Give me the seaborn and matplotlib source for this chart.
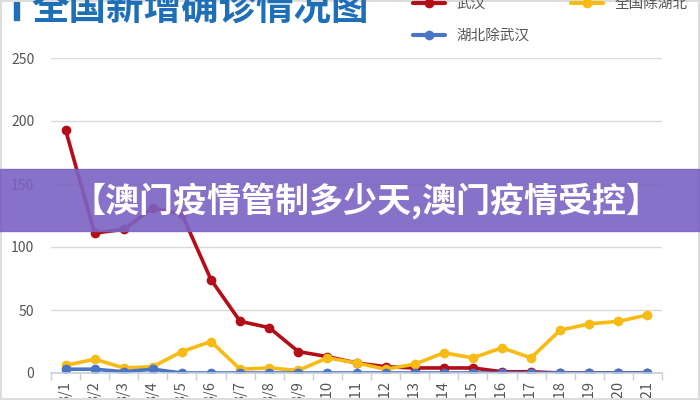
import matplotlib
matplotlib.use("Agg")
import matplotlib.pyplot as plt
import seaborn as sns
import pandas as pd
from matplotlib.lines import Line2D
from matplotlib.patches import Rectangle

DATES = [f"3/{d}" for d in range(1, 22)]
WUHAN = [193, 111, 114, 131, 126, 74, 41, 36, 17, 13, 8, 5, 4, 4, 4, 1, 1, 0, 0, 0, 0]
NATION_EX_HUBEI = [6, 11, 4, 5, 17, 25, 3, 4, 2, 12, 8, 3, 7, 16, 12, 20, 12, 34, 39, 41, 46]
HUBEI_EX_WUHAN = [3, 3, 1, 3, 0, 0, 0, 0, 0, 0, 0, 0, 0, 0, 0, 0, 0, 0, 0, 0, 0]

SERIES = {"武汉": WUHAN, "全国除湖北": NATION_EX_HUBEI, "湖北除武汉": HUBEI_EX_WUHAN}
COLORS = {"武汉": "#b50d17", "全国除湖北": "#f8bb14", "湖北除武汉": "#4a74c6"}

TITLE = "全国新增确诊情况图"
BANNER = "【澳门疫情管制多少天,澳门疫情受控】"

df = pd.concat(
    [pd.DataFrame({"date": DATES, "value": v, "series": k}) for k, v in SERIES.items()],
    ignore_index=True,
)

sns.set_theme(style="white")
plt.rcParams["font.family"] = ["Noto Sans CJK SC", "DejaVu Sans"]

fig = plt.figure(figsize=(7, 4), dpi=100)
ax = fig.add_axes([51 / 700, 27 / 400, 611 / 700, 315 / 400])

for name in ["武汉", "全国除湖北", "湖北除武汉"]:
    sub = df[df["series"] == name]
    sns.lineplot(
        data=sub, x="date", y="value", ax=ax, color=COLORS[name],
        linewidth=2.6, marker="o", markersize=7, markeredgewidth=0, sort=False,
    )

ax.set_xlim(-0.5, len(DATES) - 0.5)
ax.set_ylim(0, 250)
ax.set_yticks([0, 50, 100, 150, 200, 250])
ax.set_xticks(range(len(DATES)))
ax.set_xticklabels(DATES, rotation=90, color="#555555", fontsize=10.5)
ax.set_xticks([i + 0.5 for i in range(-1, len(DATES))], minor=True)
ax.tick_params(axis="x", which="major", length=0, pad=6)
ax.tick_params(axis="x", which="minor", length=5, color="#c8cfdc", width=1, bottom=True)
ax.tick_params(axis="y", labelsize=10, labelcolor="#555555", length=0, pad=12)
ax.grid(axis="y", color="#d9d9d9", linewidth=1)
ax.set_axisbelow(True)
ax.set_xlabel("")
ax.set_ylabel("")
for s in ["left", "right", "top"]:
    ax.spines[s].set_visible(False)
ax.spines["bottom"].set_color("#c8cfdc")
ax.spines["bottom"].set_linewidth(1.2)

# title with bar
fig.add_artist(Rectangle((14 / 700, 380 / 400), 5 / 700, 25 / 400,
                         transform=fig.transFigure, color="#1f6fb8"))
fig.text(31 / 700, 392 / 400, TITLE, fontsize=27, fontweight="bold",
         color="#1f6fb8", va="center", ha="left")

# legend
handles = [
    Line2D([0], [0], color=COLORS[n], linewidth=3, marker="o", markersize=7, markeredgewidth=0)
    for n in ["武汉", "湖北除武汉", "全国除湖北"]
]
fig.legend(handles, ["武汉", "湖北除武汉", "全国除湖北"], ncol=2, loc="upper left",
           bbox_to_anchor=(400 / 700, 416 / 400), frameon=False, fontsize=10.5,
           labelcolor="#555555", handlelength=2.2, columnspacing=2.8, labelspacing=1.2)

# purple banner overlay
fig.add_artist(Rectangle((0, 169 / 400), 1, 62 / 400, transform=fig.transFigure,
                         color="#7b62c2", alpha=0.9, zorder=10))
fig.text(366 / 700, 199 / 400, BANNER, fontsize=24.5, fontweight="heavy", color="white",
         ha="center", va="center", zorder=11)

fig.add_artist(Rectangle((0.002, 0.002), 0.996, 0.996, transform=fig.transFigure,
                         fill=False, edgecolor="#dddddd", linewidth=1.5))

fig.savefig("out.png", dpi=100)
